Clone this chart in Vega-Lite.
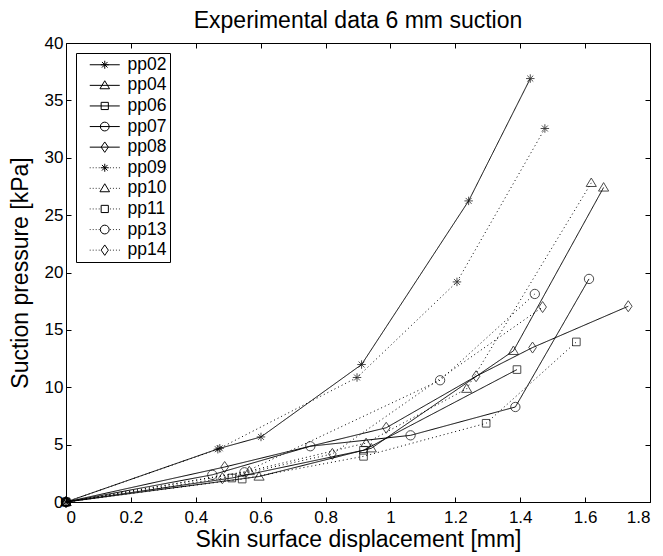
{
  "$schema": "https://vega.github.io/schema/vega-lite/v6.json",
  "width": 584,
  "height": 459,
  "autosize": {"type": "none"},
  "padding": {"left": 66, "top": 43, "right": 13, "bottom": 54},
  "background": "white",
  "title": {"text": "Experimental data 6 mm suction", "fontSize": 23, "font": "Liberation Sans", "fontWeight": "normal", "color": "black", "offset": 1, "frame": "group", "anchor": "middle"},
  "config": {
    "view": {"stroke": null},
    "axis": {"labelFont": "Liberation Sans", "titleFont": "Liberation Sans", "labelFontSize": 17, "titleFontSize": 23, "titleFontWeight": "normal", "labelColor": "black", "titleColor": "black", "domainColor": "black", "tickColor": "black", "grid": false, "domainWidth": 1, "tickWidth": 1}
  },
  "data": {"values": [
    {"series": "pp02", "disp": 0, "pressure": 0},
    {"series": "pp02", "disp": 0.474, "pressure": 4.68},
    {"series": "pp02", "disp": 0.601, "pressure": 5.67},
    {"series": "pp02", "disp": 0.911, "pressure": 11.98},
    {"series": "pp02", "disp": 1.241, "pressure": 26.24},
    {"series": "pp02", "disp": 1.431, "pressure": 36.9},
    {"series": "pp04", "disp": 0, "pressure": 0},
    {"series": "pp04", "disp": 0.595, "pressure": 2.22},
    {"series": "pp04", "disp": 0.941, "pressure": 4.68},
    {"series": "pp04", "disp": 1.379, "pressure": 13.17},
    {"series": "pp04", "disp": 1.657, "pressure": 27.41},
    {"series": "pp06", "disp": 0, "pressure": 0},
    {"series": "pp06", "disp": 0.511, "pressure": 2.09},
    {"series": "pp06", "disp": 0.917, "pressure": 4.51},
    {"series": "pp06", "disp": 1.39, "pressure": 11.54},
    {"series": "pp07", "disp": 0, "pressure": 0},
    {"series": "pp07", "disp": 0.451, "pressure": 2.37},
    {"series": "pp07", "disp": 0.753, "pressure": 4.86},
    {"series": "pp07", "disp": 1.062, "pressure": 5.81},
    {"series": "pp07", "disp": 1.385, "pressure": 8.28},
    {"series": "pp07", "disp": 1.612, "pressure": 19.44},
    {"series": "pp08", "disp": 0, "pressure": 0},
    {"series": "pp08", "disp": 0.489, "pressure": 3.05},
    {"series": "pp08", "disp": 0.987, "pressure": 6.47},
    {"series": "pp08", "disp": 1.264, "pressure": 10.96},
    {"series": "pp08", "disp": 1.438, "pressure": 13.46},
    {"series": "pp08", "disp": 1.733, "pressure": 17.06},
    {"series": "pp09", "disp": 0, "pressure": 0},
    {"series": "pp09", "disp": 0.468, "pressure": 4.6},
    {"series": "pp09", "disp": 0.897, "pressure": 10.85},
    {"series": "pp09", "disp": 1.205, "pressure": 19.18},
    {"series": "pp09", "disp": 1.476, "pressure": 32.55},
    {"series": "pp10", "disp": 0, "pressure": 0},
    {"series": "pp10", "disp": 0.565, "pressure": 2.7},
    {"series": "pp10", "disp": 0.925, "pressure": 5.14},
    {"series": "pp10", "disp": 1.235, "pressure": 9.87},
    {"series": "pp10", "disp": 1.619, "pressure": 27.81},
    {"series": "pp11", "disp": 0, "pressure": 0},
    {"series": "pp11", "disp": 0.543, "pressure": 2.0},
    {"series": "pp11", "disp": 0.917, "pressure": 3.98},
    {"series": "pp11", "disp": 1.295, "pressure": 6.86},
    {"series": "pp11", "disp": 1.573, "pressure": 13.95},
    {"series": "pp13", "disp": 0, "pressure": 0},
    {"series": "pp13", "disp": 0.55, "pressure": 2.59},
    {"series": "pp13", "disp": 1.153, "pressure": 10.61},
    {"series": "pp13", "disp": 1.445, "pressure": 18.13},
    {"series": "pp14", "disp": 0, "pressure": 0},
    {"series": "pp14", "disp": 0.482, "pressure": 2.07},
    {"series": "pp14", "disp": 0.821, "pressure": 4.19},
    {"series": "pp14", "disp": 1.469, "pressure": 16.99}
  ]},
  "resolve": {"axis": {"x": "independent", "y": "independent"}, "scale": {"shape": "independent"}},
  "layer": [
    {
      "mark": {"type": "line", "color": "black", "strokeWidth": 1, "interpolate": "linear"},
      "encoding": {
        "x": {"field": "disp", "type": "quantitative", "scale": {"domain": [0, 1.8], "nice": false, "zero": false},
              "axis": {"orient": "bottom", "values": [0, 0.2, 0.4, 0.6, 0.8, 1, 1.2, 1.4, 1.6, 1.8], "format": "~g", "tickSize": -5, "labelPadding": 12, "title": "Skin surface displacement [mm]", "titlePadding": 3}},
        "y": {"field": "pressure", "type": "quantitative", "scale": {"domain": [0, 40], "nice": false, "zero": false},
              "axis": {"orient": "left", "values": [0, 5, 10, 15, 20, 25, 30, 35, 40], "tickSize": -5, "labelPadding": 8, "title": "Suction pressure [kPa]", "titlePadding": 12}},
        "detail": {"field": "series", "type": "nominal"},
        "strokeDash": {"field": "series", "type": "nominal", "legend": null,
          "scale": {"domain": ["pp09", "pp10", "pp11", "pp13", "pp14", "pp02", "pp04", "pp06", "pp07", "pp08"],
                    "range": [[1, 3], [1, 3], [1, 3], [1, 3], [1, 3], [1, 0], [1, 0], [1, 0], [1, 0], [1, 0]]}}
      }
    },
    {
      "mark": {"type": "point", "filled": false, "stroke": "black", "strokeWidth": 1, "size": 72},
      "encoding": {
        "x": {"field": "disp", "type": "quantitative", "axis": {"orient": "top", "values": [0, 0.2, 0.4, 0.6, 0.8, 1, 1.2, 1.4, 1.6, 1.8], "labels": false, "title": null, "tickSize": -5}},
        "y": {"field": "pressure", "type": "quantitative", "axis": {"orient": "right", "values": [0, 5, 10, 15, 20, 25, 30, 35, 40], "labels": false, "title": null, "tickSize": -5}},
        "shape": {"field": "series", "type": "nominal", "legend": null,
          "scale": {"domain": ["pp14", "pp13", "pp11", "pp10", "pp09", "pp08", "pp07", "pp06", "pp04", "pp02"],
                    "range": [
                      "M0,-1.3L0.9,0L0,1.3L-0.9,0Z",
                      "M1.1,0A1.1,1.1,0,1,1,-1.1,0A1.1,1.1,0,1,1,1.1,0Z",
                      "M-0.9,-0.9L0.9,-0.9L0.9,0.9L-0.9,0.9Z",
                      "M0,-1.15L1.2,0.85L-1.2,0.85Z",
                      "M0,-1L0,1M-1,0L1,0M-0.7,-0.7L0.7,0.7M-0.7,0.7L0.7,-0.7",
                      "M0,-1.3L0.9,0L0,1.3L-0.9,0Z",
                      "M1.1,0A1.1,1.1,0,1,1,-1.1,0A1.1,1.1,0,1,1,1.1,0Z",
                      "M-0.9,-0.9L0.9,-0.9L0.9,0.9L-0.9,0.9Z",
                      "M0,-1.15L1.2,0.85L-1.2,0.85Z",
                      "M0,-1L0,1M-1,0L1,0M-0.7,-0.7L0.7,0.7M-0.7,0.7L0.7,-0.7"
                    ]}}
      }
    },
    {
      "mark": {"type": "point", "filled": false, "stroke": "black", "strokeWidth": 1, "size": 64, "opacity": 0},
      "encoding": {
        "x": {"field": "disp", "type": "quantitative", "axis": null},
        "y": {"field": "pressure", "type": "quantitative", "axis": null},
        "shape": {"field": "series", "type": "nominal",
          "scale": {"domain": ["pp02", "pp04", "pp06", "pp07", "pp08", "pp09", "pp10", "pp11", "pp13", "pp14"],
                    "range": [
                      "M-3.75,0L3.75,0M0,-1L0,1M-1,0L1,0M-0.7,-0.7L0.7,0.7M-0.7,0.7L0.7,-0.7",
                      "M-3.75,0L3.75,0M0,-1.15L1.2,0.85L-1.2,0.85Z",
                      "M-3.75,0L3.75,0M-0.9,-0.9L0.9,-0.9L0.9,0.9L-0.9,0.9Z",
                      "M-3.75,0L3.75,0M1.1,0A1.1,1.1,0,1,1,-1.1,0A1.1,1.1,0,1,1,1.1,0Z",
                      "M-3.75,0L3.75,0M0,-1.3L0.9,0L0,1.3L-0.9,0Z",
                      "M-3.75,0L-3.55,0M-3,0L-2.8,0M-2.25,0L-2.05,0M-1.5,0L-1.3,0M1.3,0L1.5,0M2.05,0L2.25,0M2.8,0L3,0M3.55,0L3.75,0M0,-1L0,1M-1,0L1,0M-0.7,-0.7L0.7,0.7M-0.7,0.7L0.7,-0.7",
                      "M-3.75,0L-3.55,0M-3,0L-2.8,0M-2.25,0L-2.05,0M-1.5,0L-1.3,0M1.3,0L1.5,0M2.05,0L2.25,0M2.8,0L3,0M3.55,0L3.75,0M0,-1.15L1.2,0.85L-1.2,0.85Z",
                      "M-3.75,0L-3.55,0M-3,0L-2.8,0M-2.25,0L-2.05,0M-1.5,0L-1.3,0M1.3,0L1.5,0M2.05,0L2.25,0M2.8,0L3,0M3.55,0L3.75,0M-0.9,-0.9L0.9,-0.9L0.9,0.9L-0.9,0.9Z",
                      "M-3.75,0L-3.55,0M-3,0L-2.8,0M-2.25,0L-2.05,0M-1.5,0L-1.3,0M1.3,0L1.5,0M2.05,0L2.25,0M2.8,0L3,0M3.55,0L3.75,0M1.1,0A1.1,1.1,0,1,1,-1.1,0A1.1,1.1,0,1,1,1.1,0Z",
                      "M-3.75,0L-3.55,0M-3,0L-2.8,0M-2.25,0L-2.05,0M-1.5,0L-1.3,0M1.3,0L1.5,0M2.05,0L2.25,0M2.8,0L3,0M3.55,0L3.75,0M0,-1.3L0.9,0L0,1.3L-0.9,0Z"
                    ]},
          "legend": {
            "title": null, "orient": "top-left", "offset": 10, "padding": 3, "rowPadding": 1.6,
            "strokeColor": "black", "fillColor": "white",
            "labelFont": "Liberation Sans", "labelFontSize": 17.5, "labelColor": "black",
            "symbolSize": 64, "symbolOffset": 17, "labelOffset": 14,
            "symbolStrokeColor": "black", "symbolFillColor": "transparent", "symbolStrokeWidth": 1, "symbolOpacity": 1
          }
        }
      }
    }
  ]
}
